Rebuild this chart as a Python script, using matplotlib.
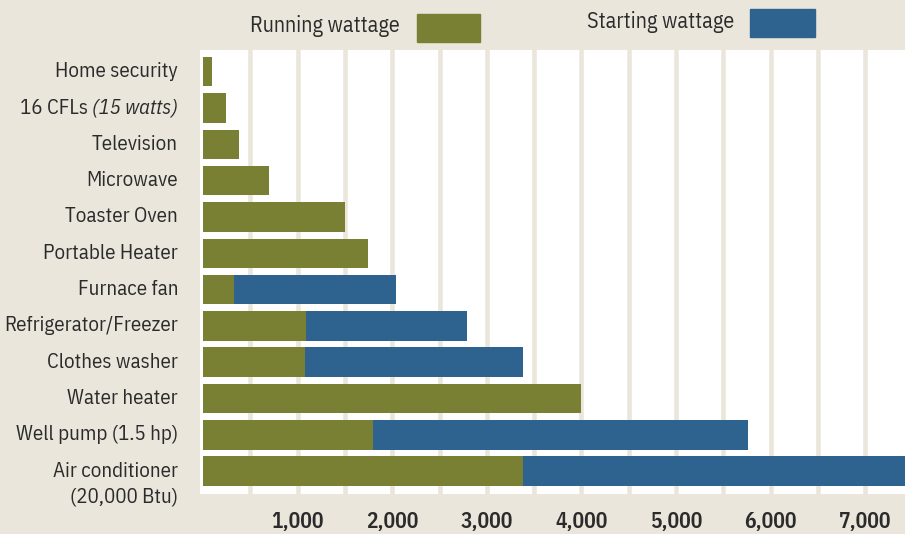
import matplotlib
matplotlib.use("Agg")
from matplotlib import pyplot as plt
from matplotlib.patches import Rectangle

# appliance wattage
appliances = ["Home security", "16 CFLs", "Television", "Microwave", "Toaster Oven",
              "Portable Heater", "Furnace fan", "Refrigerator/Freezer", "Clothes washer",
              "Water heater", "Well pump (1.5 hp)", "Air conditioner"]
running = [90, 240, 380, 700, 1500, 1740, 330, 1090, 1075, 4000, 1800, 3380]
starting = [90, 240, 380, 700, 1500, 1740, 2040, 2790, 3380, 4000, 5760, 7600]
xtick_vals = [1000, 2000, 3000, 4000, 5000, 6000, 7000]
xtick_labels = ["1,000", "2,000", "3,000", "4,000", "5,000", "6,000", "7,000"]

green = "#797f33"
blue = "#2e6390"
beige = "#ebe6dc"
ink = "#2b2b2b"

plt.rcParams["font.family"] = ["IBM Plex Sans Condensed", "DejaVu Sans"]

W, H = 905, 534
fig = plt.figure(figsize=(W / 100, H / 100), dpi=100, facecolor=beige)
ax = fig.add_axes([200 / W, 1 - 494 / H, 1 - 200 / W, (494 - 50) / H])
ax.set_facecolor("white")
for s in ax.spines.values():
    s.set_visible(False)

# beige gaps between the white columns
for v in range(500, 7500, 500):
    ax.axvline(v, color=beige, lw=3.3, zorder=1)

ypos = list(range(len(appliances)))
extra = [s - r for s, r in zip(starting, running)]
ax.barh(ypos, running, height=0.81, color=green, zorder=2)
ax.barh(ypos, extra, left=running, height=0.81, color=blue, zorder=2)

ax.set_xlim(-32, 7421)
ax.set_ylim(11.63, -0.598)

ax.set_xticks(xtick_vals)
ax.set_xticklabels(xtick_labels, fontsize=15.5, fontweight=600, color=ink)
ax.tick_params(axis="x", length=0, pad=12)
ax.set_yticks([])

# category labels, drawn by hand for the italic part and the two-line label
tr = ax.get_yaxis_transform()
lx = -22 / (W - 200)
fs = 15
for i, name in enumerate(appliances):
    if name == "16 CFLs":
        t = ax.text(lx, i, "(15 watts)", transform=tr, ha="right", va="center",
                    fontsize=fs, style="italic", color=ink)
        ax.annotate("16 CFLs ", xy=(0, 0.5), xycoords=t, ha="right", va="center",
                    fontsize=fs, color=ink)
    else:
        ax.text(lx, i, name, transform=tr, ha="right", va="center",
                fontsize=fs, color=ink)
ax.text(lx, 11 + 0.72, "(20,000 Btu)", transform=tr, ha="right", va="center",
        fontsize=fs, color=ink)

# legend along the top
fig.text(250 / W, 1 - 26 / H, "Running wattage", fontsize=15.8, color=ink, va="center")
fig.add_artist(Rectangle((417 / W, 1 - 42 / H), 63 / W, 28 / H, color=green,
                         transform=fig.transFigure))
fig.text(587 / W, 1 - 22 / H, "Starting wattage", fontsize=15.8, color=ink, va="center")
fig.add_artist(Rectangle((750 / W, 1 - 37 / H), 65 / W, 28 / H, color=blue,
                         transform=fig.transFigure))

fig.savefig("out.png", dpi=100, facecolor=beige)
